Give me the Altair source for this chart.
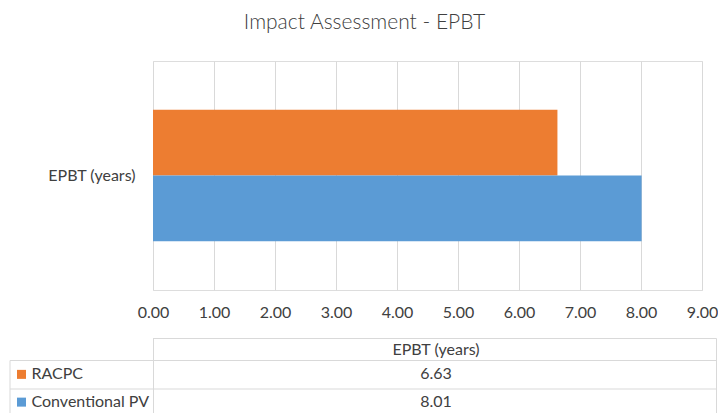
import altair as alt
import pandas as pd

category = "EPBT (years)"
series = ["RACPC", "Conventional PV"]
values = [6.63, 8.01]
colors = ["#ED7D31", "#5B9BD5"]
x_ticks = [0, 1, 2, 3, 4, 5, 6, 7, 8, 9]

df = pd.DataFrame({"category": [category] * len(series), "series": series, "value": values})
hdr = pd.DataFrame({"category": [category]})

FONT = "Lato"
TXT = "#404040"
GRID = "#D9D9D9"
FS = 16

color_scale = alt.Scale(domain=series, range=colors)

bars = alt.Chart(df).mark_bar(cornerRadius=0).encode(
    x=alt.X("value:Q", scale=alt.Scale(domain=[0, 9], nice=False),
            axis=alt.Axis(values=x_ticks, format=".2f", title=None, ticks=False, domain=False,
                          grid=True, gridColor=GRID, labelPadding=14, labelFontSize=FS,
                          labelFlush=False, labelColor=TXT, labelFont=FONT)),
    y=alt.Y("category:N", scale=alt.Scale(paddingOuter=0.372, paddingInner=0),
            axis=alt.Axis(title=None, ticks=False, domain=False, labelPadding=18,
                          labelFontSize=FS, labelColor=TXT, labelFont=FONT)),
    yOffset=alt.YOffset("series:N", sort=series, scale=alt.Scale(paddingInner=0, paddingOuter=0)),
    color=alt.Color("series:N", scale=color_scale, legend=None),
)

# table grid lines (decoration)
def hline(y, x1, x2):
    return alt.Chart(hdr).mark_rule(color=GRID, strokeWidth=1).encode(
        x=alt.value(x1), x2=alt.value(x2), y=alt.value(y))

def vline(x, y1, y2):
    return alt.Chart(hdr).mark_rule(color=GRID, strokeWidth=1).encode(
        x=alt.value(x), y=alt.value(y1), y2=alt.value(y2))

RIGHT = 563.5
lines = [
    hline(277.5, 0, RIGHT),
    hline(299.5, -143, RIGHT),
    hline(328, -143, RIGHT),
    vline(0.5, 277.5, 360),
    vline(RIGHT, 277.5, 360),
    vline(-143, 299.5, 360),
]

row_scale = alt.Scale(domain=series, range=[299.5, 355], paddingInner=0, paddingOuter=0)

header = alt.Chart(hdr).mark_text(font=FONT, fontSize=FS, color=TXT, baseline="middle").encode(
    text="category:N", x=alt.value(283), y=alt.value(288.5))

val_text = alt.Chart(df).mark_text(font=FONT, fontSize=FS, color=TXT, baseline="middle").encode(
    text=alt.Text("value:Q", format=".2f"),
    x=alt.value(283),
    y=alt.Y("series:N", scale=row_scale, axis=None, sort=series),
)

name_text = alt.Chart(df).mark_text(font=FONT, fontSize=FS, color=TXT, baseline="middle",
                                    align="left").encode(
    text="series:N",
    x=alt.value(-121.5),
    y=alt.Y("series:N", scale=row_scale, axis=None, sort=series),
)

swatch = alt.Chart(df).mark_square(size=81, opacity=1, filled=True).encode(
    x=alt.value(-131.5),
    y=alt.Y("series:N", scale=row_scale, axis=None, sort=series),
    color=alt.Color("series:N", scale=color_scale, legend=None),
)

chart = alt.layer(bars, *lines, header, val_text, name_text, swatch).resolve_scale(
    y="independent"
).properties(
    width=549, height=229,
    title=alt.TitleParams("Impact Assessment - EPBT", font=FONT, fontSize=21, fontWeight=300,
                          color=TXT, anchor="middle", dx=-63, offset=28),
    autosize=alt.AutoSizeParams(type="none"),
    padding={"left": 145, "top": 53, "right": 16, "bottom": 123},
).configure_view(stroke="#595959", strokeWidth=1.2).configure(background="white")

chart.save("out.html", embed_options={"renderer": "svg", "actions": False})
